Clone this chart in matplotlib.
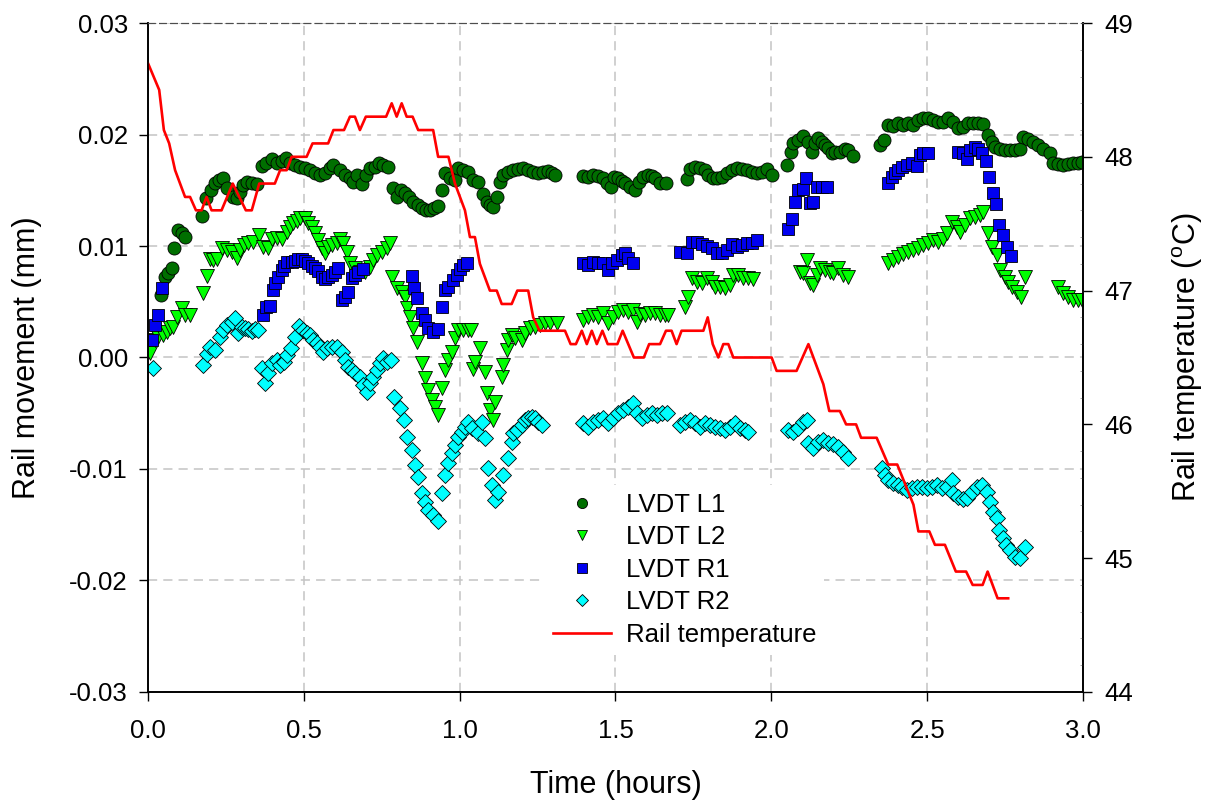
import matplotlib.pyplot as plt
import numpy as np
from matplotlib.lines import Line2D
from matplotlib.ticker import FuncFormatter, MultipleLocator

plt.rcParams['font.family'] = ['Liberation Sans', 'DejaVu Sans']
plt.rcParams['mathtext.fontset'] = 'custom'
plt.rcParams['mathtext.rm'] = 'Liberation Sans'

# (time in hours, movement in mm) for each LVDT
lvdt_l1 = [
    (0.041, 0.00561), (0.055, 0.00725), (0.065, 0.00761), (0.076, 0.00800), (0.084, 0.00985),
    (0.097, 0.01144), (0.108, 0.01119), (0.119, 0.01084), (0.174, 0.01272), (0.185, 0.01428),
    (0.201, 0.01502), (0.215, 0.01562), (0.228, 0.01592), (0.242, 0.01607), (0.254, 0.01518),
    (0.274, 0.01442), (0.287, 0.01428), (0.295, 0.01487), (0.306, 0.01547), (0.319, 0.01577),
    (0.333, 0.01562), (0.349, 0.01553), (0.365, 0.01720), (0.379, 0.01742), (0.397, 0.01778),
    (0.413, 0.01742), (0.429, 0.01762), (0.442, 0.01787), (0.456, 0.01742), (0.472, 0.01726),
    (0.488, 0.01711), (0.504, 0.01697), (0.520, 0.01682), (0.536, 0.01657), (0.552, 0.01637),
    (0.568, 0.01652), (0.584, 0.01697), (0.595, 0.01726), (0.616, 0.01682), (0.632, 0.01637),
    (0.648, 0.01607), (0.659, 0.01577), (0.670, 0.01637), (0.686, 0.01553), (0.700, 0.01637),
    (0.712, 0.01697), (0.728, 0.01711), (0.742, 0.01742), (0.755, 0.01726), (0.771, 0.01706),
    (0.785, 0.01518), (0.798, 0.01442), (0.811, 0.01502), (0.825, 0.01478), (0.838, 0.01442),
    (0.851, 0.01397), (0.865, 0.01368), (0.878, 0.01338), (0.892, 0.01323), (0.905, 0.01323),
    (0.919, 0.01338), (0.931, 0.01359), (0.942, 0.01502), (0.953, 0.01652), (0.969, 0.01607),
    (0.985, 0.01592), (0.996, 0.01697), (1.012, 0.01682), (1.028, 0.01667), (1.044, 0.01592),
    (1.060, 0.01577), (1.074, 0.01467), (1.087, 0.01397), (1.097, 0.01368), (1.108, 0.01353),
    (1.119, 0.01442), (1.129, 0.01577), (1.140, 0.01637), (1.156, 0.01667), (1.172, 0.01682),
    (1.188, 0.01688), (1.204, 0.01697), (1.220, 0.01682), (1.236, 0.01667), (1.252, 0.01652),
    (1.268, 0.01667), (1.284, 0.01676), (1.295, 0.01657), (1.306, 0.01637),
    (1.397, 0.01628), (1.413, 0.01616), (1.429, 0.01637), (1.445, 0.01628), (1.461, 0.01607),
    (1.472, 0.01562), (1.485, 0.01532), (1.495, 0.01622), (1.509, 0.01607), (1.520, 0.01586),
    (1.531, 0.01562), (1.547, 0.01532), (1.563, 0.01502), (1.576, 0.01577), (1.589, 0.01616),
    (1.605, 0.01637), (1.616, 0.01628), (1.627, 0.01607), (1.643, 0.01568), (1.662, 0.01568),
    (1.728, 0.01598), (1.739, 0.01688), (1.755, 0.01711), (1.771, 0.01697), (1.787, 0.01682),
    (1.798, 0.01637), (1.812, 0.01607), (1.825, 0.01607), (1.841, 0.01622), (1.857, 0.01652),
    (1.873, 0.01682), (1.889, 0.01697), (1.905, 0.01688), (1.921, 0.01682), (1.937, 0.01667),
    (1.953, 0.01652), (1.969, 0.01667), (1.985, 0.01688), (2.001, 0.01637),
    (2.051, 0.01726), (2.062, 0.01841), (2.071, 0.01921), (2.087, 0.01951), (2.103, 0.01990),
    (2.119, 0.01936), (2.130, 0.01846), (2.140, 0.01927), (2.151, 0.01966), (2.162, 0.01936),
    (2.172, 0.01906), (2.183, 0.01876), (2.194, 0.01832), (2.204, 0.01846), (2.220, 0.01846),
    (2.236, 0.01867), (2.247, 0.01861), (2.263, 0.01807),
    (2.349, 0.01906), (2.362, 0.01951), (2.375, 0.02085), (2.391, 0.02076), (2.407, 0.02101),
    (2.424, 0.02085), (2.440, 0.02106), (2.456, 0.02085), (2.472, 0.02130), (2.488, 0.02145),
    (2.504, 0.02145), (2.520, 0.02130), (2.536, 0.02115), (2.552, 0.02115), (2.568, 0.02145),
    (2.584, 0.02115), (2.600, 0.02056), (2.616, 0.02070), (2.632, 0.02101), (2.648, 0.02106),
    (2.664, 0.02101), (2.680, 0.02094), (2.696, 0.01996), (2.707, 0.01936), (2.718, 0.01891),
    (2.734, 0.01867), (2.750, 0.01861), (2.766, 0.01861), (2.782, 0.01861), (2.798, 0.01867),
    (2.809, 0.01975), (2.825, 0.01957), (2.841, 0.01936), (2.857, 0.01906), (2.873, 0.01867),
    (2.894, 0.01837), (2.905, 0.01742), (2.921, 0.01736), (2.937, 0.01726), (2.953, 0.01736),
    (2.969, 0.01742), (2.985, 0.01747), (2.996, 0.01756),
]

lvdt_l2 = [
    (0.006, 0.00038), (0.022, 0.00157), (0.033, 0.00187), (0.047, 0.00202), (0.060, 0.00231),
    (0.071, 0.00262), (0.081, 0.00276), (0.092, 0.00366), (0.108, 0.00441), (0.119, 0.00381),
    (0.135, 0.00381), (0.177, 0.00576), (0.188, 0.00731), (0.199, 0.00881), (0.210, 0.00875),
    (0.222, 0.00881), (0.236, 0.00979), (0.253, 0.00964), (0.269, 0.00949), (0.285, 0.00890),
    (0.295, 0.00964), (0.308, 0.01009), (0.322, 0.01024), (0.338, 0.01039), (0.357, 0.01099),
    (0.370, 0.00994), (0.386, 0.00979), (0.397, 0.01060), (0.413, 0.01069), (0.429, 0.01060),
    (0.445, 0.01128), (0.456, 0.01173), (0.466, 0.01204), (0.477, 0.01227), (0.488, 0.01249),
    (0.504, 0.01249), (0.514, 0.01204), (0.525, 0.01173), (0.536, 0.01114), (0.546, 0.01054),
    (0.557, 0.00979), (0.568, 0.00935), (0.579, 0.00994), (0.589, 0.01009), (0.605, 0.01024),
    (0.616, 0.01060), (0.627, 0.01024), (0.638, 0.00949), (0.648, 0.00845), (0.664, 0.00800),
    (0.680, 0.00770), (0.696, 0.00770), (0.712, 0.00815), (0.723, 0.00875), (0.736, 0.00919),
    (0.750, 0.00949), (0.766, 0.00979), (0.777, 0.01024), (0.782, 0.00725), (0.798, 0.00621),
    (0.814, 0.00590), (0.825, 0.00545), (0.830, 0.00441), (0.841, 0.00366), (0.851, 0.00262),
    (0.862, 0.00142), (0.878, -0.00052), (0.889, -0.00187), (0.899, -0.00292), (0.910, -0.00381),
    (0.921, -0.00441), (0.931, -0.00516), (0.942, -0.00276), (0.953, -0.00112), (0.964, -0.00022),
    (0.975, 0.00052), (0.985, 0.00172), (0.996, 0.00247), (1.012, 0.00247), (1.028, 0.00247),
    (1.038, 0.00247), (1.044, -0.00106), (1.049, -0.00038), (1.065, 0.00083), (1.081, -0.00127),
    (1.087, -0.00321), (1.097, -0.00471), (1.108, -0.00561), (1.113, -0.00396), (1.135, -0.00172),
    (1.140, -0.00067), (1.151, 0.00067), (1.156, 0.00157), (1.167, 0.00202), (1.178, 0.00172),
    (1.199, 0.00157), (1.210, 0.00217), (1.226, 0.00262), (1.242, 0.00276), (1.258, 0.00292),
    (1.274, 0.00307), (1.290, 0.00307), (1.311, 0.00307),
    (1.397, 0.00336), (1.413, 0.00366), (1.429, 0.00381), (1.445, 0.00366), (1.461, 0.00402),
    (1.477, 0.00307), (1.493, 0.00366), (1.509, 0.00411), (1.525, 0.00426), (1.541, 0.00411),
    (1.557, 0.00426), (1.568, 0.00321), (1.579, 0.00390), (1.595, 0.00381), (1.611, 0.00396),
    (1.627, 0.00396), (1.643, 0.00381), (1.659, 0.00381), (1.669, 0.00381),
    (1.723, 0.00456), (1.734, 0.00545), (1.745, 0.00710), (1.761, 0.00680), (1.777, 0.00666),
    (1.793, 0.00710), (1.809, 0.00680), (1.819, 0.00635), (1.835, 0.00635), (1.851, 0.00621),
    (1.867, 0.00650), (1.878, 0.00740), (1.894, 0.00740), (1.910, 0.00710), (1.926, 0.00710),
    (1.942, 0.00701),
    (2.092, 0.00770), (2.103, 0.00755), (2.114, 0.00875), (2.124, 0.00666), (2.135, 0.00650),
    (2.146, 0.00740), (2.156, 0.00800), (2.172, 0.00785), (2.188, 0.00770), (2.199, 0.00755),
    (2.215, 0.00800), (2.231, 0.00740), (2.247, 0.00725),
    (2.375, 0.00845), (2.391, 0.00875), (2.407, 0.00904), (2.424, 0.00928), (2.440, 0.00949),
    (2.456, 0.00964), (2.472, 0.00979), (2.488, 0.01009), (2.504, 0.01024), (2.520, 0.01054),
    (2.536, 0.01039), (2.552, 0.01060), (2.563, 0.01114), (2.579, 0.01218), (2.595, 0.01173),
    (2.605, 0.01128), (2.621, 0.01188), (2.638, 0.01249), (2.654, 0.01263), (2.670, 0.01278),
    (2.680, 0.01308), (2.696, 0.01114), (2.707, 0.00994), (2.723, 0.00919), (2.734, 0.00785),
    (2.750, 0.00725), (2.760, 0.00680), (2.771, 0.00635), (2.787, 0.00590), (2.800, 0.00545),
    (2.814, 0.00725),
    (2.921, 0.00635), (2.937, 0.00576), (2.953, 0.00545), (2.969, 0.00516), (2.985, 0.00516),
    (2.996, 0.00516),
]

lvdt_r1 = [
    (0.012, 0.00157), (0.022, 0.00292), (0.033, 0.00381), (0.044, 0.00621),
    (0.370, 0.00381), (0.379, 0.00456), (0.391, 0.00462), (0.400, 0.00605), (0.408, 0.00666),
    (0.418, 0.00719), (0.429, 0.00785), (0.436, 0.00821), (0.447, 0.00859), (0.461, 0.00859),
    (0.472, 0.00868), (0.482, 0.00881), (0.493, 0.00881), (0.504, 0.00866), (0.514, 0.00845),
    (0.525, 0.00821), (0.536, 0.00800), (0.546, 0.00779), (0.557, 0.00725), (0.568, 0.00701),
    (0.579, 0.00719), (0.589, 0.00740), (0.600, 0.00770), (0.611, 0.00800), (0.622, 0.00516),
    (0.632, 0.00545), (0.643, 0.00590), (0.654, 0.00710), (0.664, 0.00740), (0.675, 0.00770),
    (0.689, 0.00791),
    (0.846, 0.00731), (0.854, 0.00621), (0.864, 0.00531), (0.878, 0.00396), (0.889, 0.00336),
    (0.899, 0.00262), (0.914, 0.00231), (0.931, 0.00253), (0.942, 0.00456), (0.953, 0.00605),
    (0.964, 0.00630), (0.980, 0.00695), (0.991, 0.00740), (1.001, 0.00794), (1.012, 0.00830),
    (1.023, 0.00848),
    (1.397, 0.00845), (1.413, 0.00830), (1.429, 0.00859), (1.445, 0.00845), (1.461, 0.00845),
    (1.477, 0.00785), (1.488, 0.00845), (1.504, 0.00875), (1.520, 0.00919), (1.531, 0.00935),
    (1.541, 0.00890), (1.555, 0.00845),
    (1.707, 0.00949), (1.728, 0.00940), (1.745, 0.01039), (1.761, 0.01039), (1.777, 0.01018),
    (1.793, 0.01000), (1.809, 0.00979), (1.825, 0.00935), (1.841, 0.00935), (1.857, 0.00964),
    (1.873, 0.01018), (1.889, 0.00994), (1.905, 0.01009), (1.921, 0.01024), (1.937, 0.01030),
    (1.953, 0.01054),
    (2.055, 0.01150), (2.065, 0.01240), (2.076, 0.01397), (2.087, 0.01502), (2.101, 0.01509),
    (2.111, 0.01607), (2.124, 0.01383), (2.135, 0.01397), (2.146, 0.01527), (2.162, 0.01527),
    (2.178, 0.01527),
    (2.375, 0.01568), (2.386, 0.01616), (2.397, 0.01652), (2.407, 0.01682), (2.418, 0.01711),
    (2.434, 0.01726), (2.450, 0.01742), (2.466, 0.01718), (2.477, 0.01816), (2.488, 0.01832),
    (2.504, 0.01837),
    (2.600, 0.01846), (2.616, 0.01832), (2.627, 0.01778), (2.638, 0.01861), (2.654, 0.01891),
    (2.664, 0.01867), (2.675, 0.01837), (2.689, 0.01765), (2.699, 0.01616), (2.710, 0.01478),
    (2.721, 0.01377), (2.732, 0.01188), (2.744, 0.01099), (2.755, 0.00994), (2.768, 0.00910),
]

lvdt_r2 = [
    (0.017, -0.00097),
    (0.177, -0.00067), (0.188, 0.00031), (0.199, 0.00097), (0.215, 0.00067), (0.231, 0.00187),
    (0.242, 0.00247), (0.254, 0.00292), (0.269, 0.00321), (0.279, 0.00352), (0.290, 0.00217),
    (0.301, 0.00276), (0.311, 0.00262), (0.322, 0.00253), (0.333, 0.00240), (0.343, 0.00253),
    (0.354, 0.00247), (0.365, -0.00097), (0.375, -0.00231), (0.386, -0.00142), (0.397, -0.00052),
    (0.413, -0.00022), (0.424, -0.00067), (0.436, -0.00038), (0.447, 0.00022), (0.458, 0.00083),
    (0.472, 0.00187), (0.485, 0.00283), (0.498, 0.00247), (0.509, 0.00217), (0.520, 0.00202),
    (0.530, 0.00157), (0.541, 0.00127), (0.552, 0.00097), (0.562, 0.00052), (0.573, 0.00083),
    (0.589, 0.00097), (0.605, 0.00097), (0.622, 0.00052), (0.632, -0.00022), (0.643, -0.00083),
    (0.654, -0.00112), (0.664, -0.00142), (0.680, -0.00172), (0.691, -0.00247), (0.702, -0.00307),
    (0.712, -0.00231), (0.723, -0.00172), (0.734, -0.00112), (0.744, -0.00052), (0.755, -0.00007),
    (0.766, -0.00038), (0.779, -0.00022), (0.789, -0.00352), (0.809, -0.00456), (0.821, -0.00561),
    (0.832, -0.00716), (0.846, -0.00830), (0.857, -0.00964), (0.867, -0.01069), (0.878, -0.01213),
    (0.889, -0.01293), (0.899, -0.01368), (0.914, -0.01413), (0.931, -0.01464), (0.942, -0.01218),
    (0.953, -0.01054), (0.964, -0.00949), (0.975, -0.00859), (0.985, -0.00785), (0.996, -0.00710),
    (1.007, -0.00666), (1.017, -0.00621), (1.028, -0.00576), (1.039, -0.00635), (1.060, -0.00680),
    (1.071, -0.00576), (1.081, -0.00725), (1.092, -0.00994), (1.103, -0.01144), (1.113, -0.01278),
    (1.124, -0.01204), (1.140, -0.01054), (1.156, -0.00904), (1.167, -0.00755), (1.172, -0.00680),
    (1.183, -0.00650), (1.199, -0.00605), (1.210, -0.00561), (1.220, -0.00545), (1.231, -0.00531),
    (1.242, -0.00545), (1.252, -0.00576), (1.263, -0.00605),
    (1.397, -0.00590), (1.413, -0.00621), (1.429, -0.00576), (1.445, -0.00561), (1.461, -0.00545),
    (1.477, -0.00590), (1.493, -0.00545), (1.509, -0.00500), (1.525, -0.00471), (1.541, -0.00441),
    (1.555, -0.00411), (1.568, -0.00500), (1.584, -0.00545), (1.600, -0.00516), (1.616, -0.00500),
    (1.632, -0.00516), (1.648, -0.00500), (1.664, -0.00500),
    (1.707, -0.00605), (1.723, -0.00576), (1.739, -0.00561), (1.755, -0.00590), (1.771, -0.00621),
    (1.787, -0.00590), (1.803, -0.00605), (1.819, -0.00621), (1.835, -0.00635), (1.851, -0.00650),
    (1.867, -0.00621), (1.883, -0.00590), (1.899, -0.00635), (1.915, -0.00650), (1.926, -0.00666),
    (2.055, -0.00650), (2.071, -0.00666), (2.087, -0.00635), (2.103, -0.00576), (2.114, -0.00561),
    (2.119, -0.00770), (2.135, -0.00815), (2.151, -0.00755), (2.167, -0.00740), (2.183, -0.00770),
    (2.199, -0.00776), (2.215, -0.00800), (2.231, -0.00845), (2.247, -0.00904),
    (2.354, -0.00994), (2.365, -0.01054), (2.375, -0.01099), (2.391, -0.01128), (2.407, -0.01144),
    (2.418, -0.01159), (2.434, -0.01188), (2.450, -0.01173), (2.466, -0.01159), (2.482, -0.01159),
    (2.498, -0.01173), (2.514, -0.01159), (2.531, -0.01144), (2.547, -0.01173), (2.563, -0.01159),
    (2.579, -0.01099), (2.584, -0.01218), (2.600, -0.01249), (2.616, -0.01272), (2.627, -0.01263),
    (2.643, -0.01204), (2.659, -0.01159), (2.675, -0.01144), (2.691, -0.01204), (2.702, -0.01293),
    (2.712, -0.01383), (2.723, -0.01442), (2.732, -0.01547), (2.742, -0.01622), (2.753, -0.01682),
    (2.766, -0.01726), (2.782, -0.01787), (2.798, -0.01801), (2.814, -0.01697),
]

# (time in hours, rail temperature in degC)
rail_temp = [
    (0.000, 48.7), (0.036, 48.5), (0.051, 48.2), (0.068, 48.1), (0.087, 47.9), (0.119, 47.7),
    (0.135, 47.7), (0.154, 47.6), (0.172, 47.6), (0.188, 47.7), (0.204, 47.6), (0.236, 47.6),
    (0.272, 47.8), (0.314, 47.6), (0.333, 47.6), (0.357, 47.8), (0.407, 47.8), (0.424, 47.9),
    (0.445, 47.9), (0.461, 48.0), (0.509, 48.0), (0.528, 48.1), (0.578, 48.1), (0.595, 48.2),
    (0.629, 48.2), (0.648, 48.3), (0.664, 48.3), (0.680, 48.2), (0.699, 48.3), (0.764, 48.3),
    (0.782, 48.4), (0.798, 48.3), (0.814, 48.4), (0.830, 48.3), (0.849, 48.3), (0.867, 48.2),
    (0.915, 48.2), (0.931, 48.0), (0.964, 48.0), (0.985, 47.8), (1.017, 47.6), (1.033, 47.4),
    (1.049, 47.4), (1.065, 47.2), (1.097, 47.0), (1.119, 47.0), (1.135, 46.9), (1.167, 46.9),
    (1.185, 47.0), (1.220, 47.0), (1.236, 46.8), (1.256, 46.7), (1.338, 46.7), (1.356, 46.6),
    (1.373, 46.6), (1.392, 46.7), (1.408, 46.6), (1.424, 46.7), (1.440, 46.6), (1.458, 46.7),
    (1.475, 46.6), (1.506, 46.6), (1.523, 46.7), (1.559, 46.5), (1.591, 46.5), (1.608, 46.6),
    (1.643, 46.6), (1.662, 46.7), (1.680, 46.7), (1.696, 46.6), (1.712, 46.7), (1.782, 46.7),
    (1.796, 46.8), (1.812, 46.6), (1.830, 46.5), (1.846, 46.6), (1.862, 46.6), (1.878, 46.5),
    (2.001, 46.5), (2.017, 46.4), (2.081, 46.4), (2.119, 46.6), (2.167, 46.3), (2.186, 46.1),
    (2.220, 46.1), (2.240, 46.0), (2.272, 46.0), (2.288, 45.9), (2.338, 45.9), (2.375, 45.7),
    (2.404, 45.7), (2.456, 45.4), (2.472, 45.2), (2.507, 45.2), (2.525, 45.1), (2.557, 45.1),
    (2.592, 44.9), (2.625, 44.9), (2.646, 44.8), (2.678, 44.8), (2.694, 44.9), (2.726, 44.7),
    (2.760, 44.7),
]

series = [
    ("LVDT L1", lvdt_l1, "o", 9.4, "#006f00"),
    ("LVDT L2", lvdt_l2, "v", 9.8, "#00ff00"),
    ("LVDT R1", lvdt_r1, "s", 8.8, "#0000f0"),
    ("LVDT R2", lvdt_r2, "D", 7.8, "#00ffff"),
]

fig = plt.figure(figsize=(12.06, 8.02), dpi=100)
ax = fig.add_axes([0.1227, 0.1372, 0.7753, 0.8341])
ax2 = ax.twinx()

handles = []
for name, pts, mk, ms, col in series:
    t, v = np.array(pts).T
    ax.plot(t, v, ls="none", marker=mk, ms=ms, mfc=col, mec="black", mew=0.6)
    handles.append(Line2D([], [], ls="none", marker=mk, ms=ms * 0.78, mfc=col,
                          mec="black", mew=0.6, label=name))

tt, temp = np.array(rail_temp).T
ax2.plot(tt, temp, color="red", lw=1.9)
handles.append(Line2D([], [], color="red", lw=1.9, label="Rail temperature"))

ax.set_xlim(0, 3)
ax.set_ylim(-0.03, 0.03)
ax2.set_ylim(44, 49)
ax.xaxis.set_major_locator(MultipleLocator(0.5))
ax.yaxis.set_major_locator(MultipleLocator(0.01))
ax.yaxis.set_major_formatter(FuncFormatter(lambda v, p: f"{v:.2f}"))
ax.xaxis.set_major_formatter(FuncFormatter(lambda v, p: f"{v:.1f}"))
ax2.yaxis.set_major_locator(MultipleLocator(1))
ax2.yaxis.set_minor_locator(MultipleLocator(0.2))

ax.grid(True, color="#c4c4c4", ls=(0, (6, 4)), lw=1.1)
ax.set_axisbelow(True)

ax.tick_params(axis="both", which="major", direction="out", length=6.5, width=1,
               labelsize=18.5, pad=8)
ax.tick_params(axis="x", pad=13)
ax2.tick_params(axis="y", which="major", direction="out", length=6.5, width=1,
                labelsize=18.5, pad=9)
ax2.tick_params(axis="y", which="minor", direction="in", length=2.5, width=0.6,
                color="0.6")

for a in (ax, ax2):
    a.spines["top"].set_linestyle((0, (6, 4)))
    a.spines["top"].set_color("0.3")
    for s in ("left", "right", "bottom"):
        a.spines[s].set_linewidth(1.2)

ax.set_xlabel("Time (hours)", fontsize=22)
ax.set_ylabel("Rail movement (mm)", fontsize=22)
ax2.set_ylabel(r"Rail temperature ($^{\rm o}$C)", fontsize=22)
ax.xaxis.label.set_va("center")
ax.xaxis.set_label_coords(0.5, -0.139)
ax.yaxis.label.set_va("center")
ax.yaxis.set_label_coords(-0.129, 0.5)
ax2.yaxis.label.set_va("center")
ax2.yaxis.set_label_coords(1.112, 0.5)

leg = ax2.legend(handles=handles, loc="center", bbox_to_anchor=(0.574, 0.1825),
                 fontsize=18.5, frameon=True, framealpha=1, facecolor="white",
                 edgecolor="none", handlelength=2.25, handletextpad=0.6,
                 labelspacing=0.33, borderpad=0.3)

fig.savefig("out.png", dpi=100)
